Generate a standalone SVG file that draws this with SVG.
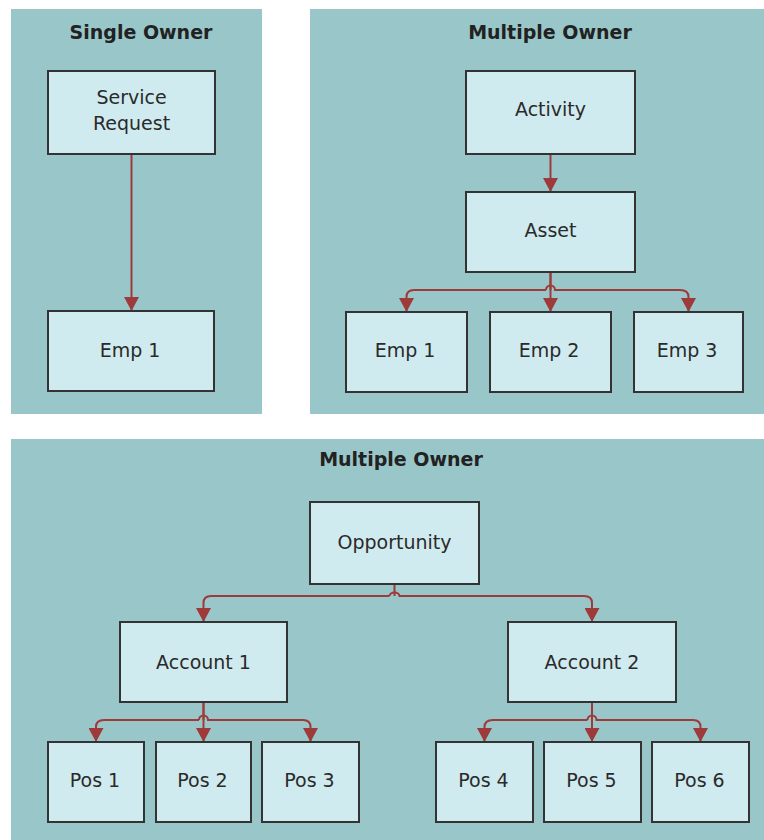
<svg xmlns="http://www.w3.org/2000/svg" width="764" height="840" viewBox="0 0 764 840">
<style>
.panel{fill:#99C7C9}
.box{fill:#D0EBEF;stroke:#333;stroke-width:2}
.title{font-family:"DejaVu Sans",Verdana,sans-serif;font-size:19px;font-weight:bold;fill:#222;text-anchor:middle}
.lbl{font-family:"DejaVu Sans",Verdana,sans-serif;font-size:19px;fill:#2a2a2a;text-anchor:middle}
.conn{fill:none;stroke:#9E3A3A;stroke-width:2;marker-end:url(#arr)}
</style>
<defs>
<marker id="arr" markerUnits="userSpaceOnUse" viewBox="0 0 14 15" markerWidth="14" markerHeight="15" refX="14" refY="7.5" orient="auto">
<path d="M0,0 L14,7.5 L0,15 z" fill="#9E3A3A"/>
</marker>
</defs>
<rect width="764" height="840" fill="#fff"/>
<g id="panels">
<rect class="panel" x="11" y="9" width="251" height="405"/>
<rect class="panel" x="310" y="9" width="454" height="405"/>
<rect class="panel" x="11" y="439" width="753" height="401"/>
<text class="title" x="141" y="39">Single Owner</text>
<text class="title" x="550" y="39">Multiple Owner</text>
<text class="title" x="401" y="466">Multiple Owner</text>
</g>
<g id="connectors">
<path class="conn" d="M131.5,154 V311"/>
<path class="conn" d="M550.5,154 V192"/>
<path class="conn" d="M550.5,272 V312"/>
<path class="conn" d="M550.5,272 V290 M546,290 H414 Q406.5,290 406.5,297 V312"/>
<path class="conn" d="M546,290 A4.5,4.5 0 0 1 555,290 H680 Q688.5,290 688.5,297 V312"/>
<path class="conn" d="M394.5,584 V596 M389.5,596 H211 Q203.5,596 203.5,603 V622"/>
<path class="conn" d="M389.5,596 A5,3.5 0 0 1 399.5,596 H584 Q592,596 592,603 V622"/>
<path class="conn" d="M203.5,702 V742"/>
<path class="conn" d="M203.5,702 V720 M199,720 H104 Q96,720 96,727 V742"/>
<path class="conn" d="M199,720 A4.5,4.5 0 0 1 208,720 H303 Q310.5,720 310.5,727 V742"/>
<path class="conn" d="M592,702 V742"/>
<path class="conn" d="M592,702 V720 M587.5,720 H493 Q484.5,720 484.5,727 V742"/>
<path class="conn" d="M587.5,720 A4.5,4.5 0 0 1 596.5,720 H693 Q700.5,720 700.5,727 V742"/>
</g>
<g id="n-service-request"><rect class="box" x="48" y="71" width="167" height="83"/><text class="lbl" x="131.5" y="104">Service</text><text class="lbl" x="131.5" y="130">Request</text></g>
<g id="n-emp1-single"><rect class="box" x="48" y="311" width="166" height="80"/><text class="lbl" x="130" y="357">Emp 1</text></g>
<g id="n-activity"><rect class="box" x="466" y="71" width="169" height="83"/><text class="lbl" x="550.5" y="116">Activity</text></g>
<g id="n-asset"><rect class="box" x="466" y="192" width="169" height="80"/><text class="lbl" x="550.5" y="237">Asset</text></g>
<g id="n-emp1"><rect class="box" x="346" y="312" width="121" height="80"/><text class="lbl" x="405" y="357">Emp 1</text></g>
<g id="n-emp2"><rect class="box" x="490" y="312" width="121" height="80"/><text class="lbl" x="549" y="357">Emp 2</text></g>
<g id="n-emp3"><rect class="box" x="634" y="312" width="109" height="80"/><text class="lbl" x="687" y="357">Emp 3</text></g>
<g id="n-opportunity"><rect class="box" x="310" y="502" width="169" height="82"/><text class="lbl" x="394.5" y="549">Opportunity</text></g>
<g id="n-account1"><rect class="box" x="120" y="622" width="167" height="80"/><text class="lbl" x="203.5" y="669">Account 1</text></g>
<g id="n-account2"><rect class="box" x="508" y="622" width="168" height="80"/><text class="lbl" x="592" y="669">Account 2</text></g>
<g id="n-pos1"><rect class="box" x="48" y="742" width="96" height="80"/><text class="lbl" x="95" y="787">Pos 1</text></g>
<g id="n-pos2"><rect class="box" x="156" y="742" width="95" height="80"/><text class="lbl" x="202.5" y="787">Pos 2</text></g>
<g id="n-pos3"><rect class="box" x="262" y="742" width="97" height="80"/><text class="lbl" x="309.5" y="787">Pos 3</text></g>
<g id="n-pos4"><rect class="box" x="436" y="742" width="97" height="80"/><text class="lbl" x="483.5" y="787">Pos 4</text></g>
<g id="n-pos5"><rect class="box" x="544" y="742" width="97" height="80"/><text class="lbl" x="591.5" y="787">Pos 5</text></g>
<g id="n-pos6"><rect class="box" x="652" y="742" width="97" height="80"/><text class="lbl" x="699.5" y="787">Pos 6</text></g>
</svg>
